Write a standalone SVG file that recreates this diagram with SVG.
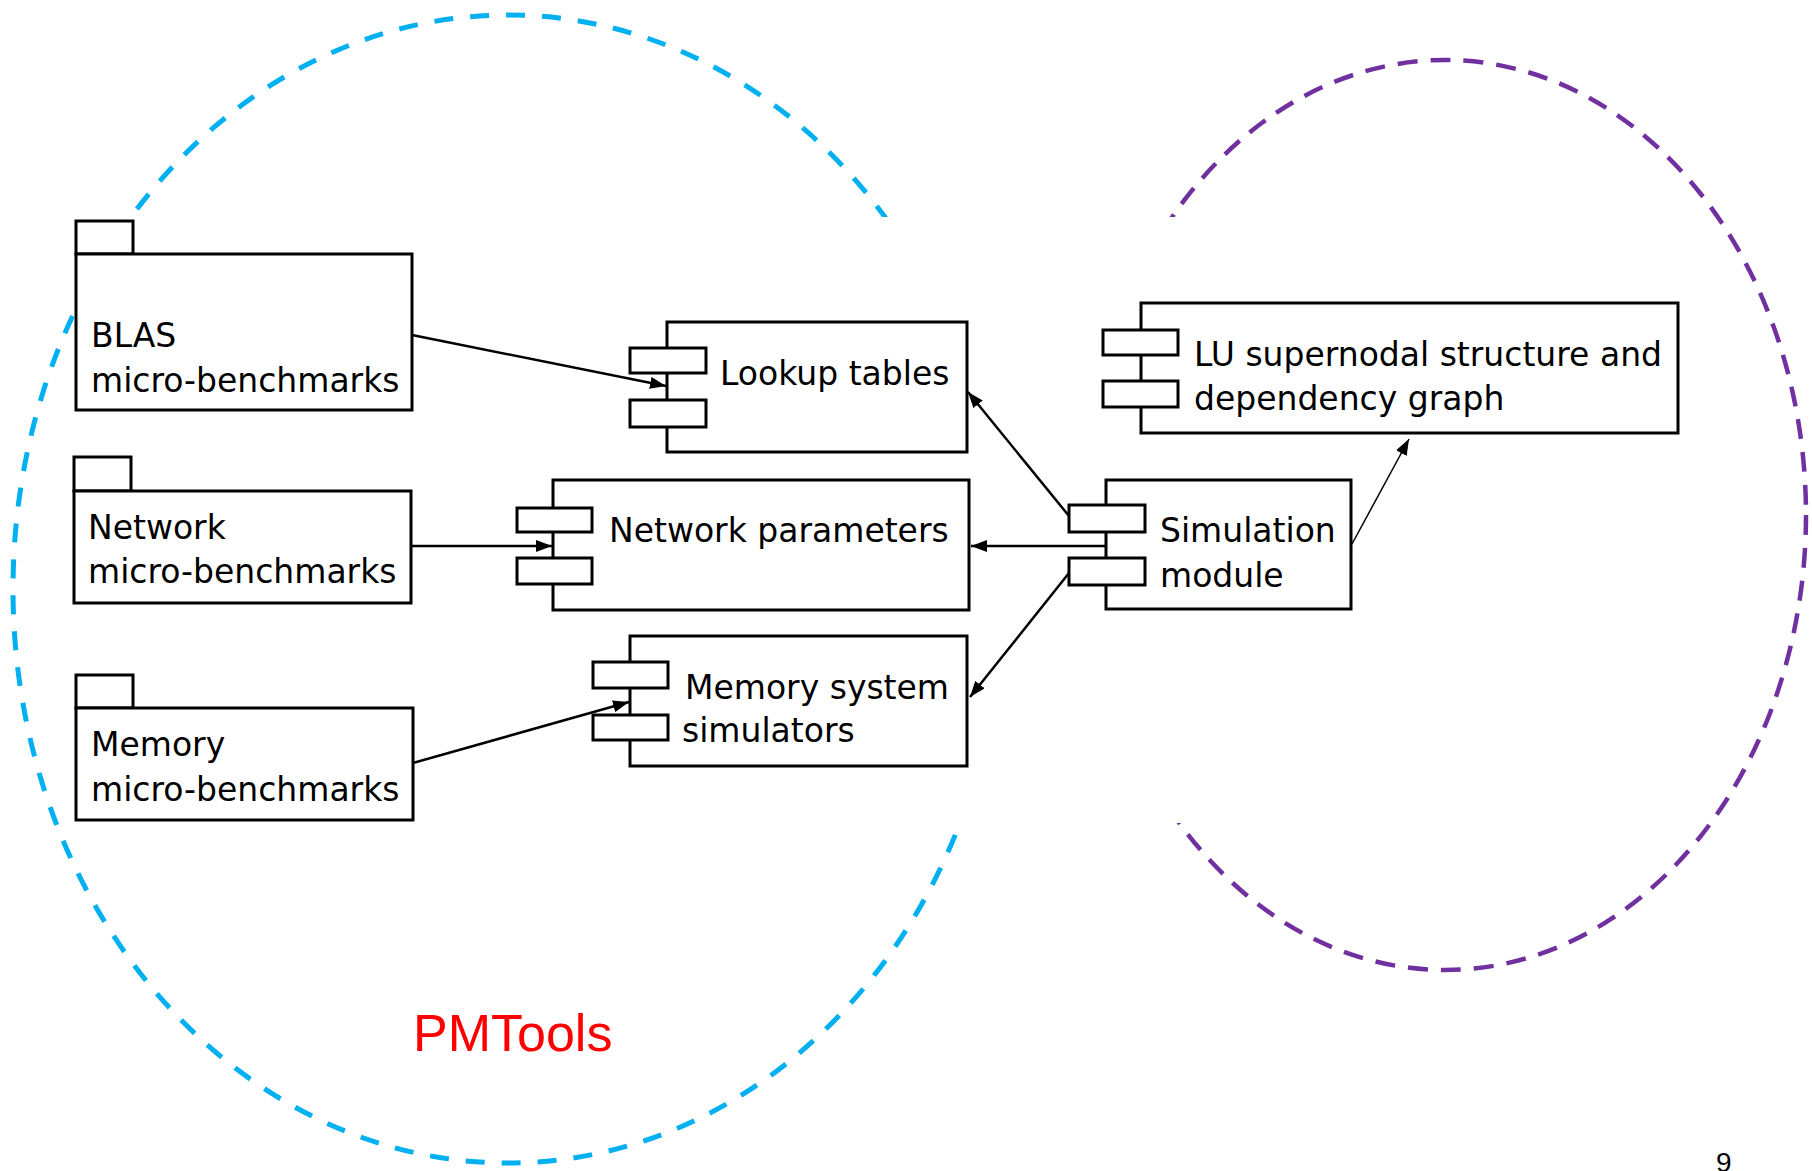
<svg xmlns="http://www.w3.org/2000/svg" width="1812" height="1171" viewBox="0 0 1812 1171">
  <style>
    .box { fill: #fff; stroke: #000; stroke-width: 3; }
    .lbl { font-family: "DejaVu Sans", sans-serif; font-size: 33px; fill: #000; }
    .wire { fill: none; stroke: #000; stroke-width: 2.5; }
    .wire-thin { fill: none; stroke: #000; stroke-width: 1.5; }
    .ring-blue { fill: none; stroke: #00B0F0; stroke-width: 5; stroke-dasharray: 19 17; }
    .ring-purple { fill: none; stroke: #7030A0; stroke-width: 4.5; stroke-dasharray: 20 13; }
  </style>
  <defs>
    <marker id="arrow" viewBox="0 0 16 12" refX="16" refY="6" markerWidth="16" markerHeight="12" markerUnits="userSpaceOnUse" orient="auto">
      <path d="M0,0 L16,6 L0,12 z" fill="#000"/>
    </marker>
  </defs>

  <rect width="1812" height="1171" fill="#fff"/>

  <!-- grouping rings -->
  <g id="rings">
    <ellipse class="ring-blue" cx="508" cy="589" rx="495" ry="574"/>
    <ellipse class="ring-purple" cx="1445" cy="515" rx="361" ry="455"/>
  </g>

  <!-- opaque panel holding the component diagram -->
  <rect id="panel" x="74" y="217" width="1616" height="606" fill="#fff"/>

  <!-- packages -->
  <g id="blas">
    <rect class="box" x="76" y="221" width="57" height="33"/>
    <rect class="box" x="76" y="254" width="336" height="156"/>
    <text class="lbl" x="91" y="347">BLAS</text>
    <text class="lbl" x="91" y="392">micro-benchmarks</text>
  </g>
  <g id="network-bench">
    <rect class="box" x="74" y="457" width="57" height="34"/>
    <rect class="box" x="74" y="491" width="337" height="112"/>
    <text class="lbl" x="88" y="539">Network</text>
    <text class="lbl" x="88" y="583">micro-benchmarks</text>
  </g>
  <g id="memory-bench">
    <rect class="box" x="76" y="675" width="57" height="33"/>
    <rect class="box" x="76" y="708" width="337" height="112"/>
    <text class="lbl" x="91" y="756">Memory</text>
    <text class="lbl" x="91" y="801">micro-benchmarks</text>
  </g>

  <!-- components -->
  <g id="lookup">
    <rect class="box" x="667" y="322" width="300" height="130"/>
    <rect class="box" x="630" y="348" width="76" height="25"/>
    <rect class="box" x="630" y="400" width="76" height="27"/>
    <text class="lbl" x="720" y="385">Lookup tables</text>
  </g>
  <g id="network-params">
    <rect class="box" x="553" y="480" width="416" height="130"/>
    <rect class="box" x="517" y="508" width="75" height="24"/>
    <rect class="box" x="517" y="558" width="75" height="26"/>
    <text class="lbl" x="609" y="542">Network parameters</text>
  </g>
  <g id="memory-sim">
    <rect class="box" x="630" y="636" width="337" height="130"/>
    <rect class="box" x="593" y="662" width="75" height="26"/>
    <rect class="box" x="593" y="715" width="75" height="25"/>
    <text class="lbl" x="685" y="699">Memory system</text>
    <text class="lbl" x="682" y="742">simulators</text>
  </g>
  <g id="lu-graph">
    <rect class="box" x="1141" y="303" width="537" height="130"/>
    <rect class="box" x="1103" y="330" width="75" height="25"/>
    <rect class="box" x="1103" y="381" width="75" height="26"/>
    <text class="lbl" x="1194" y="366">LU supernodal structure and</text>
    <text class="lbl" x="1194" y="410">dependency graph</text>
  </g>
  <g id="simulation">
    <rect class="box" x="1106" y="480" width="245" height="129"/>
    <rect class="box" x="1069" y="505" width="76" height="27"/>
    <rect class="box" x="1069" y="558" width="76" height="27"/>
    <text class="lbl" x="1160" y="542">Simulation</text>
    <text class="lbl" x="1160" y="587">module</text>
  </g>

  <!-- connectors -->
  <g id="connectors">
    <line class="wire" x1="412" y1="335" x2="666" y2="386" marker-end="url(#arrow)"/>
    <line class="wire" x1="411" y1="546" x2="552" y2="546" marker-end="url(#arrow)"/>
    <line class="wire" x1="413" y1="763" x2="629" y2="702" marker-end="url(#arrow)"/>
    <line class="wire" x1="1069" y1="516" x2="968" y2="392" marker-end="url(#arrow)"/>
    <line class="wire" x1="1106" y1="546" x2="971" y2="546" marker-end="url(#arrow)"/>
    <line class="wire" x1="1069" y1="573" x2="970" y2="697" marker-end="url(#arrow)"/>
    <line class="wire-thin" x1="1352" y1="544" x2="1409" y2="439" marker-end="url(#arrow)"/>
  </g>

  <text id="title" x="413" y="1051" font-family="'Liberation Sans', Arial, sans-serif" font-size="52" fill="#FF0000">PMTools</text>
  <text id="page" x="1716" y="1172" font-family="'Liberation Sans', Arial, sans-serif" font-size="28" fill="#000">9</text>
</svg>
